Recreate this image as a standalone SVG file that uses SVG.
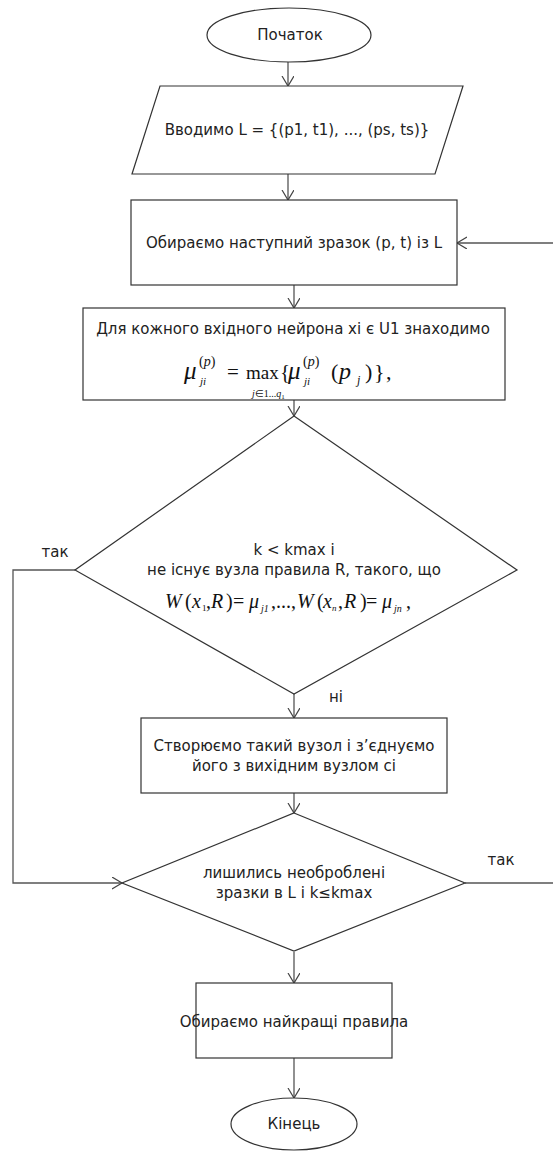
<svg xmlns="http://www.w3.org/2000/svg" width="553" height="1151" viewBox="0 0 553 1151">
<style>
.sh{fill:#fff;stroke:#333;stroke-width:1.2}
.t{font-family:"DejaVu Sans",sans-serif;font-size:15px;fill:#222;text-anchor:middle}
.cn{fill:none;stroke:#555;stroke-width:1.3}
.m{font-family:"Liberation Serif",serif;fill:#111}
.i{font-style:italic}
</style>
<defs>
<marker id="ah" markerUnits="userSpaceOnUse" markerWidth="14" markerHeight="14" refX="10" refY="6" orient="auto">
<path d="M0,0 L10,6 L0,12" fill="none" stroke="#444" stroke-width="1.2"/>
</marker>
</defs>
<rect width="553" height="1151" fill="#fff"/>
<g id="connectors">
<line class="cn" x1="288" y1="62" x2="288" y2="86" marker-end="url(#ah)"/>
<line class="cn" x1="288" y1="174" x2="288" y2="200" marker-end="url(#ah)"/>
<line class="cn" x1="553" y1="243" x2="457" y2="243" marker-end="url(#ah)"/>
<line class="cn" x1="294" y1="285" x2="294" y2="308" marker-end="url(#ah)"/>
<line class="cn" x1="294" y1="400" x2="294" y2="416" marker-end="url(#ah)"/>
<polyline class="cn" points="75,570 13,570 13,883 122,883" marker-end="url(#ah)"/>
<line class="cn" x1="294" y1="694" x2="294" y2="718" marker-end="url(#ah)"/>
<line class="cn" x1="294" y1="793" x2="294" y2="813" marker-end="url(#ah)"/>
<line class="cn" x1="465" y1="883" x2="553" y2="883"/>
<line class="cn" x1="294" y1="952" x2="294" y2="983" marker-end="url(#ah)"/>
<line class="cn" x1="294" y1="1058" x2="294" y2="1098" marker-end="url(#ah)"/>
<text class="t" x="55" y="557">так</text>
<text class="t" x="336" y="702">ні</text>
<text class="t" x="501" y="865">так</text>
</g>
<g id="start">
<ellipse class="sh" cx="289" cy="35" rx="82" ry="27"/>
<text class="t" x="290" y="40">Початок</text>
</g>
<g id="input">
<polygon class="sh" points="160,86 463,86 435,174 132,174"/>
<text class="t" x="297" y="135">Вводимо L = {(p1, t1), ..., (ps, ts)}</text>
</g>
<g id="select">
<rect class="sh" x="131" y="200" width="326" height="85"/>
<text class="t" x="294" y="248">Обираємо наступний зразок (p, t) із L</text>
</g>
<g id="compute">
<rect class="sh" x="83" y="308" width="422" height="92"/>
<text class="t" x="293" y="334">Для кожного вхідного нейрона xі є U1 знаходимо</text>
<g class="m">
<text class="i" x="184" y="379" font-size="25">μ</text>
<text x="199" y="366" font-size="14">(<tspan class="i">p</tspan>)</text>
<text class="i" x="200" y="385" font-size="11">ji</text>
<text x="227" y="379" font-size="21">=</text>
<text x="246" y="379" font-size="19">max</text>
<text x="252" y="397" font-size="10"><tspan class="i">j</tspan>∈1...<tspan class="i">q</tspan><tspan font-size="7" dy="2">1</tspan></text>
<text x="280" y="379" font-size="21">{</text>
<text class="i" x="288" y="379" font-size="25">μ</text>
<text x="303" y="366" font-size="14">(<tspan class="i">p</tspan>)</text>
<text class="i" x="304" y="385" font-size="11">ji</text>
<text x="331" y="379" font-size="22">(</text>
<text class="i" x="339" y="379" font-size="24">p</text>
<text class="i" x="357" y="384" font-size="12">j</text>
<text x="365" y="379" font-size="22">)</text>
<text x="374" y="379" font-size="22">}</text>
<text x="386" y="379" font-size="22">,</text>
</g>
</g>
<g id="decision1">
<polygon class="sh" points="294,416 517,570 294,694 75,570"/>
<text class="t" x="294" y="555">k &lt; kmax і</text>
<text class="t" x="294" y="575">не існує вузла правила R, такого, що</text>
<g class="m" font-size="20">
<text class="i" x="165" y="608">W</text>
<text x="185" y="608">(</text>
<text class="i" x="192" y="608">x</text>
<text x="202" y="611" font-size="9">1</text>
<text x="206" y="608">,</text>
<text class="i" x="211" y="608">R</text>
<text x="226" y="608">)</text>
<text x="233" y="608">=</text>
<text class="i" x="249" y="608">μ</text>
<text class="i" x="261" y="612" font-size="10">j1</text>
<text x="271" y="608">,...,</text>
<text class="i" x="297" y="608">W</text>
<text x="317" y="608">(</text>
<text class="i" x="323" y="608">x</text>
<text class="i" x="332" y="611" font-size="9">n</text>
<text x="338" y="608">,</text>
<text class="i" x="344" y="608">R</text>
<text x="360" y="608">)</text>
<text x="366" y="608">=</text>
<text class="i" x="382" y="608">μ</text>
<text class="i" x="394" y="612" font-size="10">jn</text>
<text x="406" y="608">,</text>
</g>
</g>
<g id="create">
<rect class="sh" x="141" y="718" width="306" height="75"/>
<text class="t" x="294" y="751">Створюємо такий вузол і з’єднуємо</text>
<text class="t" x="294" y="771">його з вихідним вузлом сі</text>
</g>
<g id="decision2">
<polygon class="sh" points="294,813 465,883 294,951 122,883"/>
<text class="t" x="294" y="878">лишились необроблені</text>
<text class="t" x="294" y="898">зразки в L і k≤kmax</text>
</g>
<g id="best">
<rect class="sh" x="196" y="983" width="196" height="75"/>
<text class="t" x="294" y="1027">Обираємо найкращі правила</text>
</g>
<g id="end">
<ellipse class="sh" cx="294" cy="1124" rx="63" ry="26"/>
<text class="t" x="294" y="1129">Кінець</text>
</g>
</svg>
